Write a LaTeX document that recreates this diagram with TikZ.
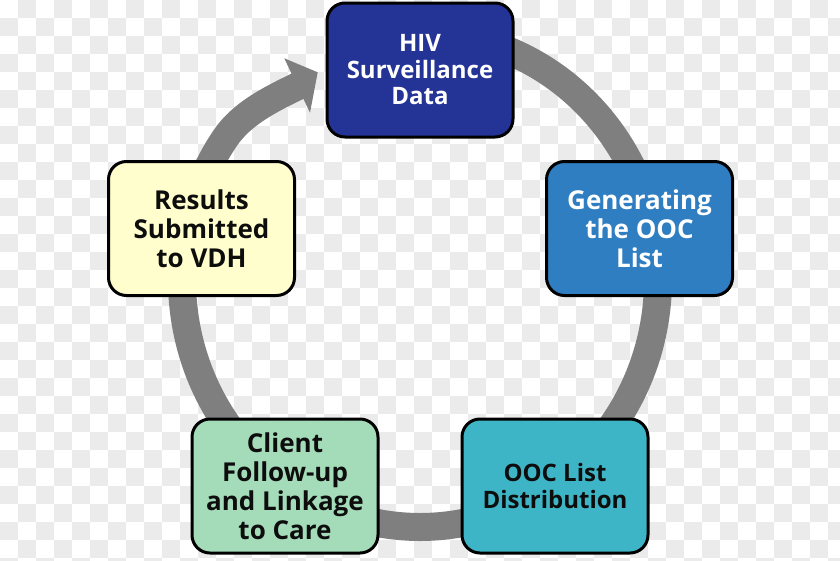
\documentclass[tikz,border=0pt]{standalone}
\usepackage{fontspec}
\setmainfont{Open Sans}
\definecolor{checkgray}{HTML}{EBEBEB}
\definecolor{ringgray}{HTML}{7F7F7F}
\definecolor{cDark}{HTML}{243496}
\definecolor{cBlue}{HTML}{2E7EC1}
\definecolor{cTeal}{HTML}{3EB5C6}
\definecolor{cGreen}{HTML}{A4DCB9}
\definecolor{cYellow}{HTML}{FFFECC}
\tikzset{
  stagebox/.style={draw=black, line width=3pt, rounded corners=18pt,
    minimum width=186pt, minimum height=134pt, align=center,
    font=\bfseries\fontsize{24}{28}\selectfont, text=black!95},
  ring/.style={draw=ringgray, line width=28pt}
}
\begin{document}
\begin{tikzpicture}[x=1pt,y=-1pt]
\useasboundingbox (0,0) rectangle (840,560);
\fill[white] (0,0) rectangle (840,560);
\begin{scope}
\clip (0,0) rectangle (840,560);
\foreach \j in {0,2,...,30}{
  \foreach \i in {0,2,...,46}{
    \fill[checkgray] (\i*18+18,\j*18) rectangle ++(18,18);
    \fill[checkgray] (\i*18,\j*18+18) rectangle ++(18,18);
  }
}
\end{scope}
% cycle ring
\draw[ring] plot[smooth,domain=-90:215,samples=140] ({420+238*cos(\x)},{280+247*sin(\x)})
  .. controls (241.8,113.4) and (271,99.1) .. (298,86);
\fill[ringgray] (284.3,58.3) -- (317.7,72.3) -- (310,112.7) -- cycle;
% stages
\node[stagebox, fill=cDark, text=white, font=\bfseries\fontsize{24}{26.5}\selectfont] (hiv) at (420,70) {HIV\\Surveillance\\Data};
\node[stagebox, fill=cBlue, text=white, font=\bfseries\fontsize{26}{29}\selectfont] (gen) at (639.5,228.5) {Generating\\the OOC\\List};
\node[stagebox, fill=cTeal, font=\bfseries\fontsize{24}{27}\selectfont] (dist) at (555,486) {OOC List\\Distribution};
\node[stagebox, fill=cGreen, font=\bfseries\fontsize{26}{29}\selectfont] (client) at (285,486) {Client\\Follow-up\\and Linkage\\to Care};
\node[stagebox, fill=cYellow, font=\bfseries\fontsize{26}{29}\selectfont] (res) at (201.5,228.5) {Results\\Submitted\\to VDH};
\end{tikzpicture}
\end{document}
